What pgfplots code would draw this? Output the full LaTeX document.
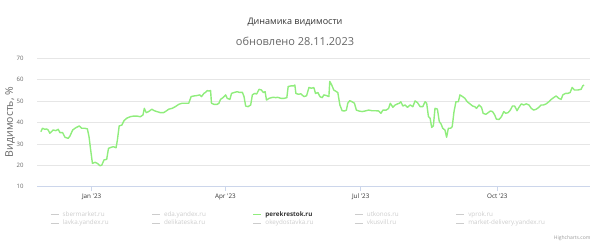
\documentclass[border=0pt]{standalone}
\usepackage{fontspec}
\setmainfont{Open Sans}
\usepackage{pgfplots}
\pgfplotsset{compat=1.18}
\usepackage{pgfplotstable}
\definecolor{linec}{HTML}{90ED7D}
\definecolor{gridc}{HTML}{E6E6E6}
\definecolor{axisc}{HTML}{CCD6EB}
\definecolor{hidc}{HTML}{CCCCCC}
\definecolor{titc}{HTML}{333333}
\definecolor{subc}{HTML}{666666}
\pgfplotstableread{
day val
-34.2 35.7
-33.1 37.3
-31.5 36.8
-30.4 37.0
-29.3 36.5
-28.2 35.0
-27.0 35.7
-25.9 36.5
-24.1 36.2
-22.5 36.8
-21.4 35.3
-19.6 35.3
-18.0 33.1
-15.8 32.6
-14.6 33.7
-12.8 36.5
-10.6 37.6
-8.3 38.4
-6.8 37.3
-4.5 37.3
-2.9 37.0
-1.8 33.4
-0.7 27.2
0.5 20.9
2.3 21.4
3.8 20.9
5.6 19.8
6.8 20.1
8.3 22.5
10.1 22.8
11.3 27.9
13.1 28.4
14.6 28.7
16.4 28.2
17.3 31.8
18.5 38.4
20.3 38.8
21.8 40.9
23.6 42.0
25.9 42.7
28.2 43.0
30.4 43.0
32.7 42.7
34.5 43.5
35.4 46.6
36.7 44.6
38.3 45.1
40.5 46.2
42.1 45.5
43.9 45.1
46.2 44.6
48.4 44.6
50.2 45.4
51.8 46.2
54.1 46.6
56.3 47.4
58.6 48.5
60.8 49.0
63.1 49.0
65.3 49.0
66.9 52.1
68.7 52.4
70.9 52.6
72.7 52.9
73.9 52.1
75.5 53.6
76.6 54.1
77.7 54.9
78.8 54.7
80.0 54.9
80.6 49.0
82.2 48.5
84.5 48.5
85.6 49.0
86.7 50.8
88.3 51.6
90.1 52.9
91.2 51.3
93.0 50.8
94.1 53.6
95.7 54.0
98.0 54.4
99.1 54.1
101.4 54.1
102.5 52.1
103.6 47.7
105.2 47.4
107.0 48.2
108.1 52.9
109.7 53.6
111.0 53.3
112.6 55.5
114.2 55.2
115.5 54.0
116.7 54.4
117.6 50.5
119.4 51.3
120.9 51.6
122.3 51.8
123.9 51.6
125.0 51.8
127.3 51.3
129.5 51.3
131.3 51.6
132.2 56.8
134.0 57.1
135.8 57.1
136.7 57.5
137.4 53.6
139.0 53.2
140.8 53.4
142.8 52.1
144.6 52.5
146.2 56.4
147.7 56.0
149.5 56.3
150.6 53.6
152.2 54.0
153.6 52.1
155.1 51.6
156.2 52.9
158.0 52.6
159.6 52.1
160.2 59.2
161.4 57.7
162.9 55.2
164.7 54.4
165.6 54.0
167.0 48.2
168.5 45.5
170.3 45.4
171.4 45.8
172.3 49.0
173.6 50.2
175.2 49.7
176.8 49.0
178.1 45.8
179.7 45.4
181.9 45.1
184.1 45.4
186.4 45.8
188.6 45.5
190.8 45.5
193.1 45.4
194.6 44.3
196.0 45.8
198.2 45.8
199.8 46.6
200.9 49.0
202.7 47.1
204.2 48.2
205.8 48.7
207.1 49.0
208.0 49.7
209.4 47.7
210.9 48.2
212.5 47.1
214.3 48.2
216.1 47.4
217.6 50.1
219.2 49.3
221.0 47.4
222.8 47.4
224.3 49.7
225.4 49.0
226.6 42.7
227.7 42.0
228.8 37.7
229.9 38.4
231.0 46.6
232.6 46.3
233.9 40.4
235.1 39.3
236.2 37.3
237.7 36.5
238.8 33.1
240.0 37.3
241.5 37.3
242.6 38.1
243.8 45.1
245.1 49.7
246.7 49.7
247.8 52.9
249.6 52.1
251.1 51.3
252.7 49.7
254.5 48.7
256.3 47.7
257.8 47.4
258.9 46.6
260.7 48.2
262.3 47.1
263.4 44.3
265.2 43.8
266.8 44.6
268.3 45.4
269.7 45.1
271.2 43.5
272.3 41.6
274.1 41.4
275.7 42.7
277.3 45.1
278.6 44.3
280.2 44.6
281.7 45.8
283.1 47.7
284.6 47.7
286.2 45.5
287.5 47.1
289.1 48.7
290.7 48.2
292.4 48.7
294.2 48.2
295.8 46.6
297.4 45.8
299.1 46.2
300.9 47.1
302.5 48.2
304.1 48.2
305.8 48.7
307.6 49.7
309.2 50.8
310.8 51.6
312.5 52.4
314.3 51.3
315.9 50.8
317.0 52.9
318.8 53.6
320.4 53.6
321.9 54.0
323.3 56.4
324.8 55.2
327.1 55.2
329.3 55.5
330.4 57.1
331.3 57.5
}\perek
\begin{document}
\begin{tikzpicture}[x=1pt,y=1pt]
\path[use as bounding box] (0,0) rectangle (600,248);
\node[font=\fontsize{9}{10}\selectfont, text=titc] at (295,226) {Динамика видимости};
\node[font=\fontsize{11}{12}\selectfont, text=subc] at (295,207) {обновлено 28.11.2023};
\node[rotate=90, font=\fontsize{10.5}{11}\selectfont, text=subc] at (10,126) {Видимость, \%};
\begin{axis}[
  at={(37pt,61.3pt)}, anchor=south west,
  scale only axis, width=553pt, height=128.4pt,
  xmin=-36.8, xmax=335.3, ymin=10, ymax=70,
  ytick={10,20,...,70},
  xtick={0,90,181,273},
  xticklabels={Jan \textquotesingle23, Apr \textquotesingle23, Jul \textquotesingle23, Oct \textquotesingle23},
  /pgf/number format/assume math mode=true,
  axis x line*=bottom, axis y line*=left,
  y axis line style={draw=none},
  x axis line style={-, draw=axisc, line width=0.8pt},
  ymajorgrids, grid style={gridc, line width=0.6pt},
  ytick style={draw=none},
  xtick style={draw=axisc, line width=0.8pt},
  tick align=outside, major tick length=4pt,
  yticklabel style={font=\fontsize{6}{7}\selectfont, text=subc, anchor=east, xshift=-6pt},
  xticklabel style={font=\fontsize{6.3}{7}\selectfont, text=titc, anchor=center, yshift=-6pt},
  legend columns=5,
  legend cell align=left,
  legend image code/.code={\draw[#1, line width=1pt] (0pt,0pt) -- (8pt,0pt);},
  legend style={at={(0.0235,-0.189)}, anchor=north west, draw=none, fill=none,
    font=\fontsize{6.3}{7}\selectfont, inner sep=0pt, row sep=0.8pt,
    nodes={inner xsep=3.5pt, inner ysep=0.5pt, text height=5pt, text depth=1.5pt},
    /tikz/every even column/.append style={column sep=0pt}},
]
\addlegendimage{hidc}
\addlegendentry{\makebox[85.4pt][l]{\textcolor{hidc}{sbermarket.ru}}}
\addlegendimage{hidc}
\addlegendentry{\makebox[85.4pt][l]{\textcolor{hidc}{eda.yandex.ru}}}
\addplot[linec, line width=1.4pt, line join=round] table[x=day, y=val] {\perek};
\addlegendentry{\makebox[85.4pt][l]{\textcolor{titc}{\bfseries perekrestok.ru}}}
\addlegendimage{hidc}
\addlegendentry{\makebox[85.4pt][l]{\textcolor{hidc}{utkonos.ru}}}
\addlegendimage{hidc}
\addlegendentry{\makebox[85.4pt][l]{\textcolor{hidc}{vprok.ru}}}
\addlegendimage{hidc}
\addlegendentry{\makebox[85.4pt][l]{\textcolor{hidc}{lavka.yandex.ru}}}
\addlegendimage{hidc}
\addlegendentry{\makebox[85.4pt][l]{\textcolor{hidc}{delikateska.ru}}}
\addlegendimage{hidc}
\addlegendentry{\makebox[85.4pt][l]{\textcolor{hidc}{okeydostavka.ru}}}
\addlegendimage{hidc}
\addlegendentry{\makebox[85.4pt][l]{\textcolor{hidc}{vkusvill.ru}}}
\addlegendimage{hidc}
\addlegendentry{\makebox[85.4pt][l]{\textcolor{hidc}{market-delivery.yandex.ru}}}
\end{axis}
\node[anchor=east, font=\fontsize{5}{6}\selectfont, text=gray!80] at (594,10) {Highcharts.com};
\end{tikzpicture}
\end{document}
